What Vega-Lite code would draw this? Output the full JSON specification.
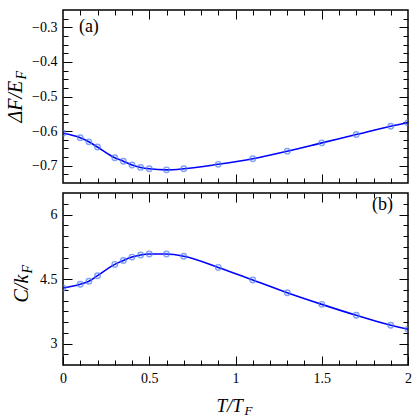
{
  "$schema": "https://vega.github.io/schema/vega-lite/v6.json",
  "padding": {"left": 4, "top": 8, "right": 0, "bottom": 0},
  "spacing": 6,
  "data": {"values": [
    {"T": 0.0, "F": -0.606, "C": 4.29},
    {"T": 0.1, "F": -0.619, "C": 4.377},
    {"T": 0.15, "F": -0.631, "C": 4.447},
    {"T": 0.2, "F": -0.646, "C": 4.577},
    {"T": 0.3, "F": -0.677, "C": 4.84},
    {"T": 0.35, "F": -0.687, "C": 4.93},
    {"T": 0.4, "F": -0.698, "C": 5.01},
    {"T": 0.45, "F": -0.705, "C": 5.058},
    {"T": 0.5, "F": -0.709, "C": 5.08},
    {"T": 0.6, "F": -0.712, "C": 5.08},
    {"T": 0.7, "F": -0.709, "C": 5.03},
    {"T": 0.9, "F": -0.696, "C": 4.77},
    {"T": 1.1, "F": -0.68, "C": 4.477},
    {"T": 1.3, "F": -0.658, "C": 4.18},
    {"T": 1.5, "F": -0.634, "C": 3.91},
    {"T": 1.7, "F": -0.61, "C": 3.656},
    {"T": 1.9, "F": -0.586, "C": 3.423},
    {"T": 2.0, "F": -0.576, "C": 3.33}
  ]},
  "vconcat": [
    {
      "width": 345,
      "height": 173,
      "resolve": {"axis": {"x": "independent", "y": "independent"}},
      "layer": [
        {
          "mark": {"type": "line", "color": "#0000ff", "strokeWidth": 1.6, "interpolate": "monotone", "clip": true},
          "encoding": {
            "x": {"field": "T", "type": "quantitative",
              "scale": {"domain": [0, 2], "nice": false, "zero": false},
              "axis": {"orient": "bottom", "values": [0.1,0.2,0.3,0.4,0.5,0.6,0.7,0.8,0.9,1,1.1,1.2,1.3,1.4,1.5,1.6,1.7,1.8,1.9],
                "labels": false, "title": null,
                "tickSize": {"condition": {"test": "abs(datum.value*2-round(datum.value*2))<0.001", "value": -9}, "value": -5}}},
            "y": {"field": "F", "type": "quantitative",
              "scale": {"domain": [-0.75, -0.25], "nice": false, "zero": false},
              "axis": {"orient": "left",
                "values": [-0.725,-0.7,-0.675,-0.65,-0.625,-0.6,-0.575,-0.55,-0.525,-0.5,-0.475,-0.45,-0.425,-0.4,-0.375,-0.35,-0.325,-0.3,-0.275],
                "labelExpr": "abs(datum.value*10-round(datum.value*10))<0.001 ? format(datum.value,'.1f') : ''",
                "labelPadding": 15,
                "title": "ΔF/E", "titleX": -42, "titleY": 112, "titleAngle": 270, "titleAlign": "left", "titleBaseline": "alphabetic", "titleFontSize": 20,
                "tickSize": {"condition": {"test": "abs(datum.value*10-round(datum.value*10))<0.001", "value": -9}, "value": -5}}}
          }
        },
        {
          "mark": {"type": "point", "filled": false, "color": "#4f7cf2", "size": 30, "strokeWidth": 1.4, "clip": true},
          "encoding": {
            "x": {"field": "T", "type": "quantitative",
              "axis": {"orient": "top", "values": [0.1,0.2,0.3,0.4,0.5,0.6,0.7,0.8,0.9,1,1.1,1.2,1.3,1.4,1.5,1.6,1.7,1.8,1.9],
                "labels": false, "title": null,
                "tickSize": {"condition": {"test": "abs(datum.value*2-round(datum.value*2))<0.001", "value": -9}, "value": -5}}},
            "y": {"field": "F", "type": "quantitative",
              "axis": {"orient": "right",
                "values": [-0.725,-0.7,-0.675,-0.65,-0.625,-0.6,-0.575,-0.55,-0.525,-0.5,-0.475,-0.45,-0.425,-0.4,-0.375,-0.35,-0.325,-0.3,-0.275],
                "labels": false,
                "title": "F", "titleX": -383, "titleY": 69, "titleAngle": 270, "titleAlign": "left", "titleBaseline": "alphabetic", "titleFontSize": 14,
                "tickSize": {"condition": {"test": "abs(datum.value*10-round(datum.value*10))<0.001", "value": -9}, "value": -5}}}
          }
        },
        {
          "data": {"values": [{"label": "(a)"}]},
          "mark": {"type": "text", "font": "Liberation Serif", "fontSize": 18, "align": "center", "baseline": "middle", "color": "black"},
          "encoding": {
            "x": {"datum": 0.15, "type": "quantitative", "axis": null},
            "y": {"datum": -0.298, "type": "quantitative", "axis": null},
            "text": {"field": "label", "type": "nominal"}
          }
        }
      ]
    },
    {
      "width": 345,
      "height": 172,
      "resolve": {"axis": {"x": "independent", "y": "independent"}},
      "layer": [
        {
          "mark": {"type": "line", "color": "#0000ff", "strokeWidth": 1.6, "interpolate": "monotone", "clip": true},
          "encoding": {
            "x": {"field": "T", "type": "quantitative",
              "scale": {"domain": [0, 2], "nice": false, "zero": false},
              "axis": {"orient": "bottom", "values": [0,0.1,0.2,0.3,0.4,0.5,0.6,0.7,0.8,0.9,1,1.1,1.2,1.3,1.4,1.5,1.6,1.7,1.8,1.9,2],
                "labelExpr": "abs(datum.value*2-round(datum.value*2))<0.001 ? format(datum.value,'~g') : ''",
                "labelPadding": 15,
                "title": "T/T", "titleX": 153, "titleY": 46, "titleAngle": 0, "titleAlign": "left", "titleBaseline": "alphabetic", "titleFontSize": 19,
                "tickSize": {"condition": {"test": "abs(datum.value*2-round(datum.value*2))<0.001", "value": -9}, "value": -5}}},
            "y": {"field": "C", "type": "quantitative",
              "scale": {"domain": [2.5, 6.5], "nice": false, "zero": false},
              "axis": {"orient": "left",
                "values": [2.75,3,3.25,3.5,3.75,4,4.25,4.5,4.75,5,5.25,5.5,5.75,6,6.25],
                "labelExpr": "abs(datum.value/1.5-round(datum.value/1.5))<0.001 ? format(datum.value,'~g') : ''",
                "labelPadding": 15,
                "title": "C/k", "titleX": -36, "titleY": 109, "titleAngle": 270, "titleAlign": "left", "titleBaseline": "alphabetic", "titleFontSize": 20,
                "tickSize": {"condition": {"test": "abs(datum.value/1.5-round(datum.value/1.5))<0.001", "value": -9}, "value": -5}}}
          }
        },
        {
          "mark": {"type": "point", "filled": false, "color": "#4f7cf2", "size": 30, "strokeWidth": 1.4, "clip": true},
          "encoding": {
            "x": {"field": "T", "type": "quantitative",
              "axis": {"orient": "top", "values": [0.1,0.2,0.3,0.4,0.5,0.6,0.7,0.8,0.9,1,1.1,1.2,1.3,1.4,1.5,1.6,1.7,1.8,1.9],
                "labels": false,
                "title": "F", "titleX": 181, "titleY": 221, "titleAngle": 0, "titleAlign": "left", "titleBaseline": "alphabetic", "titleFontSize": 13,
                "tickSize": {"condition": {"test": "abs(datum.value*2-round(datum.value*2))<0.001", "value": -9}, "value": -5}}},
            "y": {"field": "C", "type": "quantitative",
              "axis": {"orient": "right",
                "values": [2.75,3,3.25,3.5,3.75,4,4.25,4.5,4.75,5,5.25,5.5,5.75,6,6.25],
                "labels": false,
                "title": "F", "titleX": -377, "titleY": 80, "titleAngle": 270, "titleAlign": "left", "titleBaseline": "alphabetic", "titleFontSize": 14,
                "tickSize": {"condition": {"test": "abs(datum.value/1.5-round(datum.value/1.5))<0.001", "value": -9}, "value": -5}}}
          }
        },
        {
          "data": {"values": [{"label": "(b)"}]},
          "mark": {"type": "text", "font": "Liberation Serif", "fontSize": 18, "align": "center", "baseline": "middle", "color": "black"},
          "encoding": {
            "x": {"datum": 1.852, "type": "quantitative", "axis": null},
            "y": {"datum": 6.21, "type": "quantitative", "axis": null},
            "text": {"field": "label", "type": "nominal"}
          }
        }
      ]
    }
  ],
  "config": {
    "font": "Liberation Serif",
    "view": {"stroke": "black", "strokeWidth": 1.5},
    "axis": {
      "domain": false, "grid": false, "tickColor": "black", "tickWidth": 1,
      "labelFont": "Liberation Serif", "labelFontSize": 14, "labelColor": "black",
      "labelOverlap": false, "labelFlush": false, "labelBound": false,
      "titleFont": "Liberation Serif", "titleFontStyle": "italic", "titleFontWeight": "normal", "titleColor": "black"
    }
  }
}
